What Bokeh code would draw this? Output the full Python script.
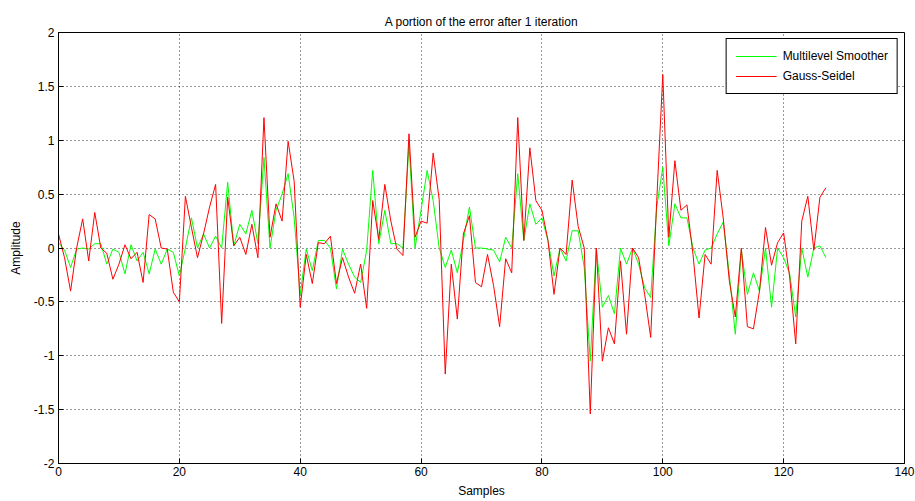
from bokeh.plotting import figure
from bokeh.models import FixedTicker, Legend, LegendItem, Range1d
from bokeh.embed import file_html
from bokeh.resources import INLINE

samples = list(range(128))
multilevel = [0.05, -0.02, -0.18, -0.01, 0.0, -0.01, 0.04, 0.04, -0.15, -0.01,
              -0.04, -0.24, 0.03, -0.12, -0.04, -0.24, -0.01, -0.15, -0.01, -0.04,
              -0.26, 0.0, 0.28, 0.0, 0.13, 0.0, 0.11, 0.0, 0.61, 0.02,
              0.22, 0.13, 0.35, 0.04, 0.84, 0.0, 0.35, 0.50, 0.69, 0.28,
              -0.43, -0.01, -0.21, 0.07, 0.07, 0.0, -0.38, -0.01, -0.15, -0.27,
              -0.32, -0.02, 0.72, 0.04, 0.35, 0.04, 0.04, 0.0, 0.96, 0.0,
              0.35, 0.72, 0.44, 0.0, -0.18, -0.02, -0.23, 0.07, 0.38, 0.0,
              0.0, -0.01, -0.02, -0.13, 0.10, 0.0, 0.69, 0.07, 0.41, 0.22,
              0.28, 0.07, -0.26, 0.0, -0.12, 0.16, 0.16, -0.18, -1.05, 0.0,
              -0.55, -0.44, -0.61, 0.0, -0.15, 0.0, -0.15, -0.37, -0.46, 0.38,
              0.75, 0.02, 0.41, 0.28, 0.28, 0.0, -0.15, -0.02, 0.0, 0.13,
              0.24, -0.24, -0.80, -0.02, -0.43, -0.23, -0.40, 0.0, -0.55, 0.0,
              -0.09, -0.24, -0.64, 0.0, -0.27, 0.0, 0.02, -0.09]
gauss_seidel = [0.13, -0.09, -0.40, 0.0, 0.27, -0.12, 0.33, 0.0, -0.05, -0.29,
                -0.15, 0.03, -0.10, -0.04, -0.32, 0.31, 0.27, 0.0, -0.01, -0.41,
                -0.50, 0.48, 0.19, -0.09, 0.13, 0.38, 0.59, -0.70, 0.47, 0.02,
                0.10, -0.06, 0.22, -0.09, 1.21, 0.10, 0.41, 0.25, 0.99, 0.62,
                -0.55, -0.06, -0.33, 0.05, 0.04, 0.11, -0.33, -0.09, -0.27, -0.42,
                -0.15, -0.56, 0.44, 0.08, 0.59, 0.25, -0.01, -0.07, 1.06, 0.10,
                0.25, 0.23, 0.88, 0.45, -1.17, -0.15, -0.66, 0.13, 0.30, -0.32,
                -0.36, -0.06, -0.35, -0.73, -0.10, -0.23, 1.21, 0.07, 0.93, 0.44,
                0.35, 0.07, -0.43, 0.0, -0.06, 0.63, 0.20, 0.0, -1.54, 0.0,
                -1.05, -0.74, -0.89, -0.12, -0.80, 0.0, -0.09, -0.43, -0.83, 0.44,
                1.61, 0.10, 0.81, 0.35, 0.40, -0.06, -0.65, -0.06, -0.15, 0.72,
                0.28, -0.30, -0.64, 0.0, -0.73, -0.75, -0.40, 0.19, -0.16, 0.05,
                0.14, -0.27, -0.89, 0.25, 0.48, -0.02, 0.47, 0.56]

x_ticks = [0, 20, 40, 60, 80, 100, 120, 140]
y_ticks = [-2, -1.5, -1, -0.5, 0, 0.5, 1, 1.5, 2]
y_tick_labels = ["-2", "-1.5", "-1", "-0.5", "0", "0.5", "1", "1.5", "2"]

FONT = "Liberation Sans Narrow, Liberation Sans, Arial, sans-serif"

p = figure(width=915, height=501, output_backend="svg", toolbar_location=None,
           x_range=Range1d(0, 140), y_range=Range1d(-2, 2),
           min_border_left=58, min_border_right=11, min_border_top=32, min_border_bottom=38)

p.title.text = "A portion of the error after 1 iteration"
p.title.align = "center"
p.title.text_font = FONT
p.title.text_font_size = "12px"
p.title.text_font_style = "normal"
p.title.text_color = "black"
p.title.offset = 0
p.title.standoff = 8

r_green = p.line(samples, multilevel, line_color="#00ff00", line_width=1)
r_red = p.line(samples, gauss_seidel, line_color="#ff0000", line_width=1)

p.xaxis.ticker = FixedTicker(ticks=x_ticks)
p.yaxis.ticker = FixedTicker(ticks=y_ticks)
overrides = {float(t): s for t, s in zip(y_ticks, y_tick_labels)}
overrides.update({int(t): s for t, s in zip(y_ticks, y_tick_labels) if float(t).is_integer()})
p.yaxis.major_label_overrides = overrides

for ax in (p.xaxis, p.yaxis):
    ax.axis_line_color = "black"
    ax.major_tick_line_color = "black"
    ax.major_tick_in = 5
    ax.major_tick_out = 0
    ax.minor_tick_line_color = None
    ax.major_label_text_font = FONT
    ax.major_label_text_font_size = "12px"
    ax.major_label_text_color = "black"
    ax.axis_label_text_font = FONT
    ax.axis_label_text_font_size = "12px"
    ax.axis_label_text_font_style = "normal"
    ax.axis_label_text_color = "black"

p.xaxis.axis_label = "Samples"
p.yaxis.axis_label = "Amplitude"
p.xaxis.major_label_standoff = 3
p.yaxis.major_label_standoff = 4
p.xaxis.axis_label_standoff = 5
p.yaxis.axis_label_standoff = 8

p.xgrid.grid_line_color = "black"
p.ygrid.grid_line_color = "black"
p.xgrid.grid_line_dash = "1 3"
p.ygrid.grid_line_dash = "1 3"
p.xgrid.grid_line_alpha = 0.8
p.ygrid.grid_line_alpha = 0.8

p.outline_line_color = "black"
p.outline_line_alpha = 1.0
p.background_fill_color = "white"
p.border_fill_color = "white"

legend = Legend(items=[LegendItem(label="Multilevel Smoother", renderers=[r_green]),
                       LegendItem(label="Gauss-Seidel", renderers=[r_red])],
                location="top_right")
legend.label_text_font = FONT
legend.label_text_font_size = "12px"
legend.label_text_color = "black"
legend.border_line_color = "black"
legend.border_line_alpha = 1.0
legend.background_fill_alpha = 1.0
legend.glyph_width = 41
legend.glyph_height = 16
legend.label_height = 16
legend.spacing = 4
legend.padding = 9
legend.margin = 6
legend.label_standoff = 6
p.add_layout(legend)

open("out.html", "w").write(file_html(p, INLINE))
